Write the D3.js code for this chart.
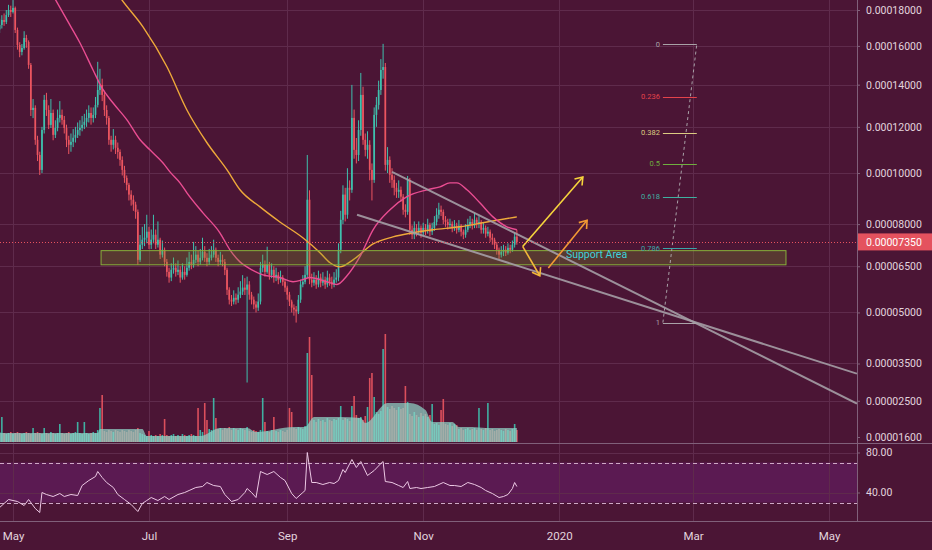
<!DOCTYPE html>
<html>
<head>
<meta charset="utf-8">
<script src="https://cdnjs.cloudflare.com/ajax/libs/d3/7.8.5/d3.min.js"></script>
<style>
html, body { margin: 0; padding: 0; background: #4b1535; }
svg { display: block; font-family: Roboto, "DejaVu Sans", sans-serif; }
</style>
</head>
<body>
<svg id="chart" width="932" height="550"></svg>
<script>
// prices are in satoshi (1e-8), one candle per day from startDay
const startDay = "2019-04-25";
const firstOpen = 16900;
const closes = [
  17150, 17430, 17320, 17710, 18000, 17890, 18120, 16870, 16050, 15680,
  15890, 16430, 16210, 15000, 12780, 12880, 11420, 10760, 10130, 11860,
  13260, 12780, 12090, 12640, 11640, 11950, 12410, 12550, 12320, 11950,
  11420, 11200, 11330, 11510, 11640, 11860, 11950, 12090, 12230, 12410,
  12640, 12410, 12550, 13020, 13740, 13990, 13500, 12780, 12410, 11420,
  11200, 11420, 11070, 10890, 10550, 10130, 9800, 9520, 9130, 8930,
  8740, 8460, 6720, 7250, 7430, 7500, 7720, 7250, 7430, 7610,
  7250, 7430, 6900, 7070, 6650, 6310, 6120, 6380, 6450, 6310,
  6380, 6120, 6310, 6210, 6450, 6650, 6550, 6720, 6900, 6650,
  6790, 7000, 6790, 6650, 6790, 6900, 7070, 6790, 6650, 6720,
  6650, 6380, 5720, 5400, 5340, 5460, 5400, 5560, 5660, 5790,
  5720, 5890, 5560, 5400, 5250, 5150, 5340, 6450, 6550, 6310,
  6550, 6210, 6380, 6120, 6210, 6050, 6120, 5980, 5790, 5560,
  5340, 5150, 5090, 5030, 5400, 5890, 5980, 6210, 8930, 6050,
  5950, 6050, 5890, 6120, 5950, 6050, 5890, 6120, 5980, 5890,
  6050, 6120, 7070, 8160, 9130, 8350, 9400, 9320, 12410, 10980,
  10760, 11860, 13500, 11420, 10980, 11200, 10130, 9720, 12550, 13020,
  13740, 14740, 14890, 10340, 10550, 9930, 9720, 9400, 9240, 9320,
  9050, 8540, 8460, 9720, 7790, 7610, 7860, 7720, 7860, 7680,
  7860, 7790, 7970, 7720, 7860, 8080, 8350, 8540, 8460, 8160,
  8080, 7970, 8010, 7860, 7940, 7790, 7940, 7720, 7610, 7790,
  7970, 8080, 7940, 8160, 8010, 8080, 7790, 7860, 7650, 7720,
  7500, 7430, 7250, 7070, 6900, 7000, 7070, 6970, 7140, 7070,
  7250, 7540, 7350
];
const highs = [
  17500, 17700, 17800, 18000, 18300, 18250, 18580, 18200, 17000, 16200,
  16100, 16800, 16600, 16300, 15100, 13300, 13000, 11600, 10900, 12000,
  13500, 13600, 13000, 13300, 12800, 12300, 12800, 13200, 12800, 12500,
  12100, 11600, 11700, 11900, 12000, 12200, 12300, 12500, 12600, 12800,
  13000, 12900, 12900, 13400, 15160, 14800, 14300, 13700, 13000, 12500,
  11600, 11900, 11600, 11300, 11000, 10700, 10300, 9900, 9600, 9300,
  9100, 8850, 8550, 7600, 7900, 8000, 8350, 7900, 7800, 8350,
  7800, 8100, 7500, 7400, 7150, 6750, 6450, 6600, 6800, 6600,
  6700, 6500, 6600, 6500, 6800, 7000, 6900, 7350, 7200, 7050,
  7100, 7500, 7200, 6950, 7100, 7200, 7430, 7150, 6900, 7000,
  6900, 6750, 6450, 5800, 5550, 5700, 5600, 5800, 6000, 6200,
  6100, 6150, 6000, 5650, 5500, 5350, 5600, 6650, 6900, 6700,
  7180, 6650, 6600, 6500, 6450, 6300, 6350, 6200, 6050, 5850,
  5650, 5400, 5250, 5200, 5550, 6050, 6200, 6500, 10760, 9300,
  6250, 6300, 6200, 6350, 6250, 6300, 6150, 6350, 6250, 6150,
  6300, 6400, 7300, 8500, 9500, 9400, 10200, 9700, 13990, 12800,
  11500, 12300, 14590, 13900, 11700, 11800, 11400, 10400, 12900, 13400,
  14200, 15300, 16110, 15100, 11100, 10700, 10200, 9900, 9600, 9700,
  9450, 9150, 8750, 9880, 9800, 7950, 8100, 8000, 8100, 7950,
  8050, 8000, 8200, 8050, 8050, 8300, 8600, 8810, 8700, 8550,
  8300, 8200, 8200, 8100, 8150, 8050, 8150, 8000, 7800, 8000,
  8200, 8300, 8200, 8430, 8250, 8300, 8150, 8050, 7950, 7900,
  7800, 7650, 7500, 7350, 7150, 7200, 7250, 7200, 7300, 7250,
  7400, 7700, 7790
];
const lows = [
  16700, 16950, 17100, 17200, 17600, 17600, 17800, 16700, 15800, 15400,
  15500, 15800, 15900, 14800, 12500, 12400, 11200, 10500, 9920, 10000,
  11700, 12500, 11900, 11950, 11400, 11500, 11800, 12200, 12100, 11700,
  11100, 10800, 10900, 11100, 11300, 11500, 11600, 11800, 11900, 12000,
  12200, 12100, 12200, 12400, 12900, 13500, 13200, 12500, 12100, 11200,
  10900, 11000, 10800, 10600, 10300, 9900, 9600, 9300, 8900, 8700,
  8500, 8200, 6550, 6650, 7100, 7200, 7300, 7100, 7100, 7300,
  7100, 7150, 6750, 6800, 6500, 6150, 5950, 6000, 6250, 6150,
  6200, 5950, 6050, 6050, 6150, 6350, 6400, 6450, 6600, 6500,
  6550, 6700, 6650, 6500, 6550, 6700, 6800, 6650, 6500, 6550,
  6500, 6200, 5550, 5250, 5200, 5250, 5250, 5300, 5450, 5550,
  5550, 2980, 5400, 5250, 5100, 5000, 5050, 5250, 6300, 6150,
  6250, 6050, 6100, 5950, 6000, 5900, 5950, 5850, 5650, 5400,
  5200, 5000, 4900, 4690, 4950, 5300, 5800, 5900, 6100, 5900,
  5800, 5850, 5750, 5800, 5800, 5850, 5750, 5800, 5850, 5750,
  5800, 5950, 6000, 6950, 8000, 8100, 8200, 8900, 9200, 10600,
  10400, 10500, 11600, 11200, 10700, 10600, 9700, 8900, 9600, 12000,
  12800, 13500, 14300, 10100, 10000, 9600, 9400, 9100, 9000, 9000,
  8850, 8350, 8250, 8350, 7600, 7450, 7450, 7550, 7600, 7500,
  7550, 7600, 7650, 7550, 7600, 7750, 7950, 8200, 8300, 8000,
  7900, 7800, 7850, 7700, 7750, 7650, 7700, 7550, 7450, 7500,
  7700, 7850, 7800, 7850, 7850, 7850, 7650, 7650, 7500, 7550,
  7350, 7250, 7100, 6900, 6750, 6800, 6850, 6850, 6900, 6950,
  7000, 7150, 7250
];
const volumes = [
  10, 25, 9, 8, 9, 10, 8, 9, 10, 9,
  8, 9, 10, 9, 8, 14, 9, 10, 9, 8,
  14, 9, 8, 10, 9, 8, 9, 18, 9, 8,
  9, 10, 8, 9, 10, 20, 9, 8, 20, 9,
  8, 9, 10, 9, 12, 34, 47, 11, 10, 12,
  11, 10, 12, 11, 10, 12, 11, 10, 12, 11,
  10, 12, 14, 9, 8, 7, 6, 11, 7, 6,
  7, 6, 8, 7, 23, 7, 6, 7, 8, 6,
  7, 6, 8, 7, 6, 7, 8, 7, 6, 34,
  12, 10, 39, 22, 13, 12, 44, 24, 13, 14,
  12, 14, 13, 15, 12, 14, 13, 12, 14, 13,
  12, 15, 11, 10, 12, 11, 10, 12, 44, 20,
  11, 10, 12, 25, 11, 10, 12, 11, 10, 12,
  34, 30, 14, 13, 15, 14, 13, 16, 89, 105,
  67, 22, 20, 23, 21, 22, 20, 24, 22, 21,
  23, 22, 24, 36, 22, 24, 23, 21, 36, 46,
  27, 24, 25, 22, 26, 35, 64, 69, 45, 30,
  28, 31, 93, 108, 35, 33, 36, 34, 32, 35,
  33, 34, 56, 40, 28, 26, 30, 27, 25, 29,
  26, 28, 25, 27, 38, 18, 19, 17, 32, 43,
  18, 17, 19, 16, 18, 17, 13, 14, 12, 13,
  14, 12, 13, 14, 12, 34, 13, 12, 14, 39,
  12, 13, 11, 12, 13, 12, 11, 13, 12, 11,
  13, 18, 12
];

// volume average (overlay area)
const volMaDay = [0, 44, 45, 64, 66, 90, 99, 111, 115, 132, 137, 141, 152, 162, 164, 174, 184, 191, 194, 203, 206, 212, 218, 232];
const volMaValue = [9, 9, 13, 13, 6, 6, 14, 14, 10, 15, 15, 25, 25, 24, 19, 39, 39, 32, 20, 20, 15, 15, 14, 14];

// moving averages (pink / yellow)
const maFastDay = [22.6, 30.2, 36, 41.9, 45.9, 50.8, 57.1, 63, 67.4, 73.3, 76.4, 80.9, 84, 91.2, 98.8, 103.3, 107.8, 110.9, 118.1, 125.7, 131.6, 136, 139.2, 146.8, 151.3, 155.8, 161.6, 167.5, 175.1, 182.7, 191.7, 197.5, 202, 205.1, 209.6, 215.4, 221.3, 227.5, 232];
const maFastValue = [19180, 17430, 16170, 14740, 13840, 13120, 12320, 11420, 10980, 10420, 10050, 9600, 9200, 8420, 7680, 7070, 6650, 6480, 6210, 6120, 5980, 6050, 6120, 5980, 5890, 6180, 6830, 7790, 8540, 9050, 9320, 9440, 9600, 9600, 9320, 8810, 8270, 7900, 7790];
const maSlowDay = [51.7, 54.9, 64.3, 75.1, 84, 93, 102, 107.8, 116.8, 125.7, 136, 143.7, 148.2, 152.6, 158.5, 167.5, 176.4, 185.4, 194.3, 206.5, 218.6, 232];
const maSlowValue = [19180, 18580, 17040, 14890, 12780, 11290, 10130, 9320, 8650, 8080, 7500, 6970, 6620, 6480, 6720, 7280, 7530, 7680, 7790, 7900, 8080, 8270];

// RSI
const rsiDay = [0, 4, 8, 11, 13, 16, 18, 19, 21, 24, 27, 29, 32, 35, 37, 40, 43, 44, 46, 48, 51, 53, 56, 59, 62, 64, 66, 68, 71, 74, 76, 80, 83, 85, 88, 91, 93, 96, 99, 101, 104, 107, 110, 111, 113, 115, 117, 120, 123, 126, 128, 131, 133, 136, 137, 138, 140, 142, 145, 148, 150, 152, 154, 155, 158, 160, 162, 165, 168, 171, 172, 173, 176, 179, 181, 183, 184, 187, 189, 192, 195, 199, 202, 204, 207, 210, 213, 216, 218, 221, 224, 226, 228, 230, 231, 232];
const rsiValue = [25, 33, 31, 27, 33, 24, 20, 40, 38, 36, 39, 36, 38, 37, 47, 52, 56, 61, 55, 50, 45, 38, 33, 28, 21, 29, 32, 35, 32, 36, 33, 38, 40, 42, 45, 46, 50, 47, 46, 38, 31, 33, 40, 44, 40, 35, 61, 58, 61, 55, 52, 39, 34, 40, 42, 80, 50, 50, 48, 50, 49, 52, 63, 60, 73, 65, 71, 57, 62, 69, 71, 51, 50, 47, 45, 51, 44, 45, 44, 45, 46, 50, 47, 47, 46, 50, 48, 45, 42, 39, 35, 36, 38, 44, 50, 46];

// axes
const priceTicks = [1600, 2500, 3500, 5000, 6500, 8000, 10000, 12000, 14000, 16000, 18000];
const rsiTicks = [40, 80];
const rsiBands = [70, 30];
const monthTicks = ["2019-05-01", "2019-07-01", "2019-09-01", "2019-11-01", "2020-01-01", "2020-03-01", "2020-05-01"];
const lastPrice = 7350;

// drawings (day index, price)
const supportDays = [45.5, 352.7];
const supportPrices = [7040, 6550];
const supportLabel = "Support Area";
const trendLines = [[176, 10050, 384.5, 2430], [160.3, 8350, 384.5, 3220]];
const fibLevels = [0, 0.236, 0.382, 0.5, 0.618, 0.786, 1];
const fibHigh = 16100, fibLow = 4690;
const fibDays = [297.5, 312.7];
const arrows = [[234.6, 7190, 261.6, 9840], [234.6, 7190, 242.3, 6180], [246.1, 6440, 263.5, 8140]];

const fibColors = ["#a9a2a8", "#e5434b", "#dccb82", "#6fae3f", "#3fb0a0", "#3aa5a8", "#a9a2a8"];
const arrowColors = ["#f6d43c", "#f2b83a", "#f39a34"];
const upColor = "#3fc0ad", downColor = "#eb5560";

const svg = d3.select('#chart');
const plotR = 857, mainB = 443, rsiB = 521;
const parse = d3.timeParse('%Y-%m-%d');
const start = parse(startDay);
const dayDate = i => new Date(start.getTime() + i * 864e5);

const x = d3.scaleTime().domain([parse('2019-05-01'), parse('2020-05-01')]).range([13, 829]);
const y = d3.scaleSymlog().constant(10000).domain([1600, 18000]).range([437, 10]);
const yVol = d3.scaleLinear().domain([0, 110]).range([442, 332]);
const yRsi = d3.scaleLinear().domain([40, 80]).range([492.5, 452.5]);
const px = v => Math.round(v) + 0.5;

const defs = svg.append('defs');
defs.append('clipPath').attr('id', 'clipMain').append('rect').attr('x', 0).attr('y', 0).attr('width', plotR).attr('height', mainB);
defs.append('clipPath').attr('id', 'clipRsi').append('rect').attr('x', 0).attr('y', mainB + 1).attr('width', plotR).attr('height', rsiB - mainB - 1);
defs.append('clipPath').attr('id', 'clipAxis').append('rect').attr('x', plotR).attr('y', 0).attr('width', 80).attr('height', mainB);
arrowColors.forEach((c, i) => {
  defs.append('marker').attr('id', 'arrow' + i)
    .attr('viewBox', '-8 -6 10 12').attr('markerWidth', 10).attr('markerHeight', 12)
    .attr('markerUnits', 'userSpaceOnUse').attr('orient', 'auto')
    .append('path').attr('d', 'M-7,-5 L0,0 L-7,5').attr('fill', 'none').attr('stroke', c).attr('stroke-width', 1.6);
});

svg.append('rect').attr('width', 932).attr('height', 550).attr('fill', '#4b1535');

// rsi band
svg.append('rect').attr('x', 0).attr('width', plotR)
  .attr('y', yRsi(rsiBands[0])).attr('height', yRsi(rsiBands[1]) - yRsi(rsiBands[0]))
  .attr('fill', '#5b1a52');

// grid
const grid = svg.append('g').attr('stroke', '#5f2b4c').attr('stroke-width', 1);
monthTicks.map(parse).forEach(d => {
  grid.append('line').attr('x1', px(x(d))).attr('x2', px(x(d))).attr('y1', 0).attr('y2', rsiB);
});
priceTicks.slice(1).forEach(v => {
  grid.append('line').attr('x1', 0).attr('x2', plotR).attr('y1', px(y(v))).attr('y2', px(y(v)));
});
rsiTicks.forEach(v => {
  grid.append('line').attr('x1', 0).attr('x2', plotR).attr('y1', px(yRsi(v))).attr('y2', px(yRsi(v)));
});
rsiBands.forEach(v => {
  svg.append('line').attr('x1', 0).attr('x2', plotR).attr('y1', px(yRsi(v))).attr('y2', px(yRsi(v)))
    .attr('stroke', '#cfa9c6').attr('stroke-dasharray', '4,3').attr('stroke-width', 1);
});

// candles
const candles = closes.map((c, i) => ({
  date: dayDate(i),
  open: i ? closes[i - 1] : firstOpen,
  close: c, high: highs[i], low: lows[i], vol: volumes[i]
}));
const colorOf = d => d.close >= d.open ? upColor : downColor;

const main = svg.append('g').attr('clip-path', 'url(#clipMain)');

// volume
main.append('g').selectAll('rect').data(candles).enter().append('rect')
  .attr('x', d => x(d.date) - 0.8).attr('width', 1.6)
  .attr('y', d => yVol(d.vol)).attr('height', d => yVol(0) - yVol(d.vol))
  .attr('fill', colorOf).attr('opacity', 0.9);
const volMa = volMaDay.map((d, i) => ({date: dayDate(d), v: volMaValue[i]}));
main.append('path').datum(volMa)
  .attr('d', d3.area().x(d => x(d.date)).y0(yVol(0)).y1(d => yVol(d.v)).curve(d3.curveMonotoneX))
  .attr('fill', '#8fd2c6').attr('opacity', 0.72);

main.append('g').selectAll('line').data(candles).enter().append('line')
  .attr('x1', d => x(d.date)).attr('x2', d => x(d.date))
  .attr('y1', d => y(d.high)).attr('y2', d => y(d.low))
  .attr('stroke', colorOf).attr('stroke-width', 1);
main.append('g').selectAll('rect').data(candles).enter().append('rect')
  .attr('x', d => x(d.date) - 0.85).attr('width', 1.7)
  .attr('y', d => y(Math.max(d.open, d.close)))
  .attr('height', d => Math.max(1, Math.abs(y(d.open) - y(d.close))))
  .attr('fill', colorOf);

// moving averages
const maLine = d3.line().x(d => x(d.date)).y(d => y(d.v)).curve(d3.curveMonotoneX);
main.append('path').datum(maSlowDay.map((d, i) => ({date: dayDate(d), v: maSlowValue[i]})))
  .attr('d', maLine).attr('fill', 'none').attr('stroke', '#eea93a').attr('stroke-width', 1.4);
main.append('path').datum(maFastDay.map((d, i) => ({date: dayDate(d), v: maFastValue[i]})))
  .attr('d', maLine).attr('fill', 'none').attr('stroke', '#ea4d92').attr('stroke-width', 1.4);

// support area
main.append('rect')
  .attr('x', x(dayDate(supportDays[0]))).attr('width', x(dayDate(supportDays[1])) - x(dayDate(supportDays[0])))
  .attr('y', y(supportPrices[0])).attr('height', y(supportPrices[1]) - y(supportPrices[0]))
  .attr('fill', 'rgba(125,150,40,0.27)').attr('stroke', '#86b03a').attr('stroke-width', 1);
main.append('text')
  .attr('x', x(dayDate(254))).attr('y', y(6895)).attr('dy', '0.35em')
  .attr('fill', '#3ed2da').attr('font-size', 10.5).text(supportLabel);

// trend lines
trendLines.forEach(t => {
  main.append('line')
    .attr('x1', x(dayDate(t[0]))).attr('y1', y(t[1]))
    .attr('x2', x(dayDate(t[2]))).attr('y2', y(t[3]))
    .attr('stroke', '#a59ea6').attr('stroke-width', 2).attr('opacity', 0.9);
});

// fib retracement
const fx0 = x(dayDate(fibDays[0])), fx1 = x(dayDate(fibDays[1]));
main.append('line').attr('x1', fx0).attr('y1', y(fibLow)).attr('x2', fx1).attr('y2', y(fibHigh))
  .attr('stroke', '#a9a2a8').attr('stroke-dasharray', '3,3').attr('stroke-width', 1);
fibLevels.forEach((r, i) => {
  const v = fibHigh - r * (fibHigh - fibLow);
  main.append('line').attr('x1', fx0).attr('x2', fx1).attr('y1', px(y(v))).attr('y2', px(y(v)))
    .attr('stroke', fibColors[i]).attr('stroke-width', 1.2);
  main.append('text').attr('x', fx0 - 3).attr('y', y(v)).attr('dy', '0.35em')
    .attr('text-anchor', 'end').attr('font-size', 7.5).attr('fill', fibColors[i]).text(String(r));
});

// arrows
arrows.forEach((a, i) => {
  main.append('line')
    .attr('x1', x(dayDate(a[0]))).attr('y1', y(a[1]))
    .attr('x2', x(dayDate(a[2]))).attr('y2', y(a[3]))
    .attr('stroke', arrowColors[i]).attr('stroke-width', 1.6)
    .attr('marker-end', 'url(#arrow' + i + ')');
});

// last price line
main.append('line').attr('x1', 0).attr('x2', plotR).attr('y1', px(y(lastPrice))).attr('y2', px(y(lastPrice)))
  .attr('stroke', '#e8525e').attr('stroke-dasharray', '1,2').attr('stroke-width', 1);

// RSI line
svg.append('g').attr('clip-path', 'url(#clipRsi)').append('path')
  .datum(rsiDay.map((d, i) => ({date: dayDate(d), v: rsiValue[i]})))
  .attr('d', d3.line().x(d => x(d.date)).y(d => yRsi(d.v)))
  .attr('fill', 'none').attr('stroke', '#ecc8e4').attr('stroke-width', 1);

// pane borders
const border = svg.append('g').attr('stroke', '#80607a').attr('stroke-width', 1);
border.append('line').attr('x1', 0).attr('x2', 932).attr('y1', mainB + 0.5).attr('y2', mainB + 0.5);
border.append('line').attr('x1', 0).attr('x2', 932).attr('y1', rsiB + 0.5).attr('y2', rsiB + 0.5);
border.append('line').attr('x1', plotR + 0.5).attr('x2', plotR + 0.5).attr('y1', 0).attr('y2', rsiB);

// axes
const styleAxis = g => {
  g.select('.domain').remove();
  g.selectAll('line').attr('stroke', '#80607a');
  g.selectAll('text').attr('fill', '#e2d4de').attr('font-size', 10.5).attr('font-family', 'Roboto, "DejaVu Sans", sans-serif');
};
svg.append('g').attr('clip-path', 'url(#clipAxis)').append('g')
  .attr('transform', `translate(${plotR},0)`)
  .call(d3.axisRight(y).tickValues(priceTicks).tickFormat(v => (v / 1e8).toFixed(8)).tickSize(3).tickPadding(6))
  .call(styleAxis);
svg.append('g').attr('transform', `translate(${plotR},0)`)
  .call(d3.axisRight(yRsi).tickValues(rsiTicks).tickFormat(d3.format('.2f')).tickSize(3).tickPadding(6))
  .call(styleAxis);
svg.append('g').attr('transform', `translate(0,${rsiB})`)
  .call(d3.axisBottom(x).tickValues(monthTicks.map(parse))
    .tickFormat(d => d.getMonth() === 0 ? String(d.getFullYear()) : d3.timeFormat('%b')(d))
    .tickSize(0).tickPadding(11))
  .call(styleAxis)
  .call(g => g.selectAll('text').attr('font-size', 11.5));

// last price label
const ly = y(lastPrice);
svg.append('rect').attr('x', plotR + 1).attr('y', ly - 8.5).attr('width', 932 - plotR - 1).attr('height', 17).attr('fill', '#e4525e');
svg.append('text').attr('x', plotR + 9).attr('y', ly).attr('dy', '0.35em')
  .attr('fill', '#ffffff').attr('font-size', 10.5).text((lastPrice / 1e8).toFixed(8));
</script>
</body>
</html>
